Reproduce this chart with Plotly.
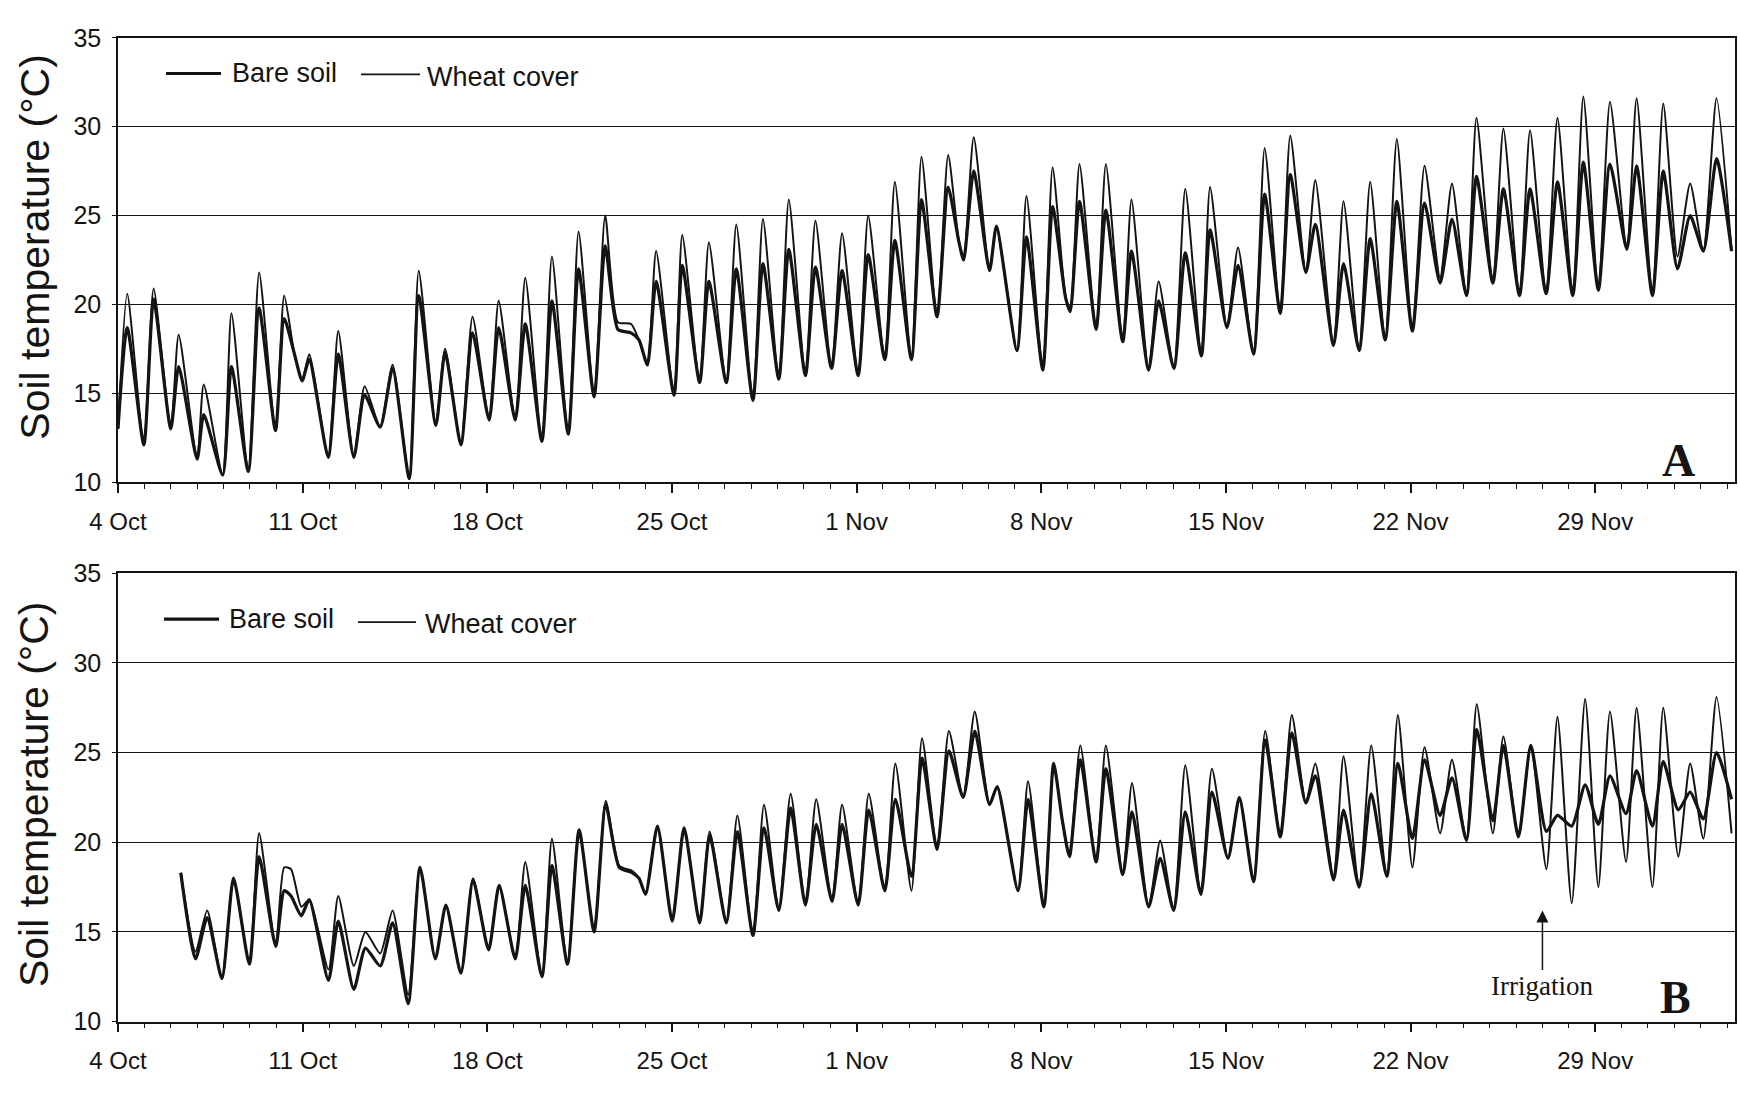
import pandas as pd
import plotly.graph_objects as go

# Soil temperature records: time in days after 4 Oct, temperatures in °C
START = pd.Timestamp("2002-10-04")

# Panel A
a_days = [0.00, 0.35, 0.98, 1.35, 2.00, 2.30, 3.00, 3.25, 3.97, 4.30, 4.94, 5.35, 5.97, 6.30, 6.69, 6.98,
          7.25, 7.97, 8.35, 8.94, 9.35, 9.94, 10.41, 11.04, 11.40, 12.05, 12.40, 13.00, 13.44, 14.07, 14.43,
          15.06, 15.44, 16.07, 16.45, 17.07, 17.46, 18.05, 18.47, 18.95, 19.45, 19.75, 20.07, 20.40, 21.08,
          21.39, 22.05, 22.40, 23.06, 23.44, 24.07, 24.45, 25.05, 25.43, 26.06, 26.44, 27.05, 27.45, 28.06,
          28.44, 29.07, 29.45, 30.08, 30.46, 31.05, 31.47, 31.88, 32.06, 32.44, 33.04, 33.30, 34.08, 34.44,
          35.06, 35.43, 35.92, 36.10, 36.45, 37.08, 37.45, 38.09, 38.42, 39.07, 39.45, 40.03, 40.46, 41.07,
          41.40, 42.04, 42.46, 43.05, 43.47, 44.06, 44.44, 45.03, 45.39, 46.08, 46.46, 47.05, 47.47, 48.04,
          48.48, 49.07, 49.53, 50.12, 50.57, 51.12, 51.50, 52.12, 52.52, 53.13, 53.53, 54.14, 54.57, 55.15,
          55.55, 56.12, 56.56, 57.20, 57.57, 58.17, 58.58, 59.12, 59.60, 60.10, 60.60, 61.17]
a_bare = [13.0, 18.7, 12.1, 20.3, 13.0, 16.5, 11.3, 13.8, 10.4, 16.5, 10.6, 19.8, 12.9, 19.2, 17.2, 15.7,
          16.9, 11.4, 17.2, 11.4, 14.9, 13.1, 16.4, 10.2, 20.5, 13.2, 17.3, 12.1, 18.4, 13.5, 18.7,
          13.5, 18.9, 12.3, 20.2, 12.7, 22.0, 14.8, 23.3, 18.6, 18.4, 18.0, 16.6, 21.3, 14.9,
          22.2, 15.6, 21.3, 15.6, 22.0, 14.6, 22.3, 15.8, 23.1, 16.0, 22.1, 16.4, 21.9, 16.0,
          22.8, 16.9, 23.6, 16.9, 25.9, 19.3, 26.6, 23.5, 22.5, 27.5, 21.9, 24.4, 17.4, 23.8,
          16.3, 25.5, 20.4, 19.6, 25.8, 18.6, 25.3, 17.9, 23.0, 16.3, 20.2, 16.4, 22.9, 17.1,
          24.2, 18.7, 22.2, 17.2, 26.2, 19.5, 27.3, 21.8, 24.5, 17.7, 22.3, 17.4, 23.7, 18.0,
          25.8, 18.5, 25.7, 21.2, 24.8, 20.5, 27.2, 21.2, 26.5, 20.5, 26.5, 20.6, 26.9, 20.5,
          28.0, 20.8, 27.9, 23.1, 27.8, 20.5, 27.5, 22.0, 25.0, 23.0, 28.2, 23.0]
a_wheat = [13.0, 20.6, 12.1, 20.9, 13.0, 18.3, 11.3, 15.5, 10.4, 19.5, 10.6, 21.8, 12.9, 20.5, 17.2, 15.7,
           17.2, 11.4, 18.5, 11.4, 15.4, 13.1, 16.6, 10.2, 21.9, 13.2, 17.5, 12.1, 19.3, 13.5, 20.2,
           13.5, 21.5, 12.3, 22.7, 12.7, 24.1, 14.8, 25.0, 19.0, 18.9, 18.0, 16.6, 23.0, 14.9,
           23.9, 15.6, 23.5, 15.6, 24.5, 14.6, 24.8, 15.8, 25.9, 16.0, 24.7, 16.4, 24.0, 16.0,
           25.0, 16.9, 26.9, 16.9, 28.3, 19.3, 28.4, 23.5, 22.5, 29.4, 21.9, 24.4, 17.4, 26.1,
           16.3, 27.7, 20.4, 19.6, 27.9, 18.6, 27.9, 17.9, 25.9, 16.3, 21.3, 16.4, 26.5, 17.1,
           26.6, 18.7, 23.2, 17.2, 28.8, 19.5, 29.5, 21.8, 27.0, 17.7, 25.8, 17.4, 26.9, 18.0,
           29.3, 18.5, 27.8, 21.5, 26.8, 20.5, 30.5, 21.2, 29.9, 20.5, 29.8, 20.6, 30.5, 20.5,
           31.7, 20.8, 31.4, 23.1, 31.6, 20.5, 31.3, 22.7, 26.8, 23.0, 31.6, 23.0]

# Panel B
b_days = [2.38, 2.94, 3.38, 3.94, 4.38, 4.98, 5.35, 5.98, 6.30, 6.56, 6.95, 7.25, 7.98, 8.35, 8.94, 9.38,
          9.94, 10.41, 11.00, 11.45, 12.03, 12.43, 13.00, 13.46, 14.05, 14.45, 15.06, 15.44, 16.07, 16.45,
          17.04, 17.48, 18.05, 18.49, 19.00, 19.50, 19.75, 20.00, 20.45, 21.01, 21.46, 22.05, 22.43, 23.06,
          23.48, 24.07, 24.49, 25.05, 25.50, 26.06, 26.47, 27.07, 27.45, 28.06, 28.46, 29.07, 29.47, 30.08,
          30.48, 31.05, 31.50, 32.04, 32.48, 33.04, 33.33, 34.12, 34.50, 35.10, 35.47, 35.79, 36.07, 36.48,
          37.08, 37.45, 38.09, 38.44, 39.07, 39.51, 40.02, 40.46, 41.05, 41.47, 42.08, 42.51, 43.05, 43.49,
          44.06, 44.50, 45.03, 45.39, 46.08, 46.46, 47.05, 47.51, 48.10, 48.52, 49.07, 49.53, 50.12, 50.57,
          51.12, 51.51, 52.12, 52.52, 53.09, 53.56, 54.15, 54.57, 55.11, 55.62, 56.12, 56.56, 57.17, 57.57,
          58.17, 58.58, 59.15, 59.60, 60.10, 60.60, 61.17]
b_bare = [18.3, 13.5, 15.8, 12.4, 18.0, 13.2, 19.2, 14.2, 17.3, 17.0, 15.9, 16.8, 12.3, 15.6, 11.8, 14.1,
          13.1, 15.5, 11.0, 18.6, 13.5, 16.5, 12.7, 17.9, 14.0, 17.6, 13.5, 17.6, 12.5, 18.7,
          13.2, 20.7, 15.0, 22.1, 18.6, 18.3, 18.0, 17.1, 20.9, 15.6, 20.8, 15.5, 20.4, 15.5,
          20.6, 14.8, 20.8, 16.2, 21.9, 16.5, 21.0, 16.7, 21.0, 16.5, 21.8, 17.3, 22.4, 18.1,
          24.7, 19.6, 25.1, 22.5, 26.2, 22.1, 23.1, 17.3, 22.4, 16.4, 24.4, 21.3, 19.2, 24.6,
          18.9, 24.1, 18.2, 21.7, 16.4, 19.1, 16.2, 21.7, 17.1, 22.8, 19.1, 22.5, 17.8, 25.7,
          20.3, 26.1, 22.2, 23.7, 17.9, 21.8, 17.5, 22.7, 18.1, 24.4, 20.2, 24.6, 21.5, 23.6,
          20.1, 26.3, 21.2, 25.4, 20.3, 25.4, 20.6, 21.5, 20.9, 23.2, 21.0, 23.7, 21.6, 24.0,
          20.9, 24.5, 21.8, 22.8, 21.3, 25.0, 22.4]
b_wheat = [18.3, 13.9, 16.2, 12.4, 18.0, 13.2, 20.5, 14.2, 18.6, 18.5, 16.4, 16.8, 12.9, 17.0, 13.1, 15.0,
           13.8, 16.2, 11.5, 18.6, 13.5, 16.5, 12.7, 18.0, 14.0, 17.6, 13.5, 18.9, 12.5, 20.2,
           13.2, 20.7, 15.0, 22.3, 18.7, 18.4, 18.0, 17.1, 20.9, 15.6, 20.8, 15.5, 20.6, 15.5,
           21.5, 14.8, 22.1, 16.2, 22.7, 16.5, 22.4, 16.7, 22.1, 16.5, 22.7, 17.3, 24.4, 17.3,
           25.8, 19.6, 26.2, 22.5, 27.3, 22.1, 23.1, 17.3, 23.4, 16.4, 24.4, 21.3, 19.2, 25.4,
           18.9, 25.4, 18.2, 23.3, 16.4, 20.1, 16.2, 24.3, 17.1, 24.1, 19.1, 22.5, 17.8, 26.2,
           20.3, 27.1, 22.2, 24.4, 18.1, 24.8, 17.5, 25.4, 18.1, 27.1, 18.6, 25.3, 20.5, 24.6,
           20.1, 27.7, 20.5, 25.9, 20.3, 25.4, 18.5, 27.0, 16.6, 28.0, 17.5, 27.3, 18.9, 27.5,
           17.5, 27.5, 19.2, 24.4, 20.2, 28.1, 20.5]

week_labels = ["4 Oct", "11 Oct", "18 Oct", "25 Oct", "1 Nov", "8 Nov", "15 Nov", "22 Nov", "29 Nov"]
temp_ticks = [10, 15, 20, 25, 30, 35]
irrigation_day = 54.0

SANS = "Liberation Sans, Arial, sans-serif"
SERIF = "Liberation Serif, Times New Roman, serif"
INK = "#141414"


def as_time(days):
    return START + pd.to_timedelta(pd.Series(days, dtype=float), unit="D")


fig = go.Figure()

panels = [
    ("x", "y", a_days, a_bare, a_wheat),
    ("x2", "y2", b_days, b_bare, b_wheat),
]
for xa, ya, days, bare, wheat in panels:
    t = as_time(days)
    fig.add_trace(go.Scatter(x=t, y=wheat, xaxis=xa, yaxis=ya, mode="lines", name="Wheat cover",
                             line=dict(color=INK, width=2.0, shape="spline", smoothing=0.6),
                             showlegend=False))
    fig.add_trace(go.Scatter(x=t, y=bare, xaxis=xa, yaxis=ya, mode="lines", name="Bare soil",
                             line=dict(color=INK, width=3.2, shape="spline", smoothing=0.6),
                             showlegend=False))

week_vals = [START + pd.Timedelta(days=7 * i) for i in range(len(week_labels))]
x_range = [START, START + pd.Timedelta(days=61.3)]

xaxis_style = dict(
    range=x_range, tickmode="array", tickvals=week_vals, ticktext=week_labels,
    ticks="outside", ticklen=9, tickwidth=1.5, tickcolor=INK,
    showline=True, linecolor=INK, linewidth=1.6, mirror=True, showgrid=False, zeroline=False,
    tickfont=dict(family=SANS, size=24, color=INK), ticklabelstandoff=8,
    minor=dict(tickmode="linear", tick0=START, dtick=86400000, ticks="outside",
               ticklen=5, tickwidth=1, tickcolor=INK, showgrid=False),
)
yaxis_style = dict(
    range=[10, 35], tickmode="array", tickvals=temp_ticks,
    ticks="outside", ticklen=4, tickcolor=INK, tickwidth=1.2,
    showgrid=True, gridcolor=INK, gridwidth=1.4,
    showline=True, linecolor=INK, linewidth=1.6, mirror=True, zeroline=False,
    tickfont=dict(family=SANS, size=25, color=INK), ticklabelstandoff=6,
)

fig.update_layout(
    width=1740, height=1094,
    margin=dict(l=118, r=5, t=0, b=0),
    paper_bgcolor="white", plot_bgcolor="white",
    xaxis=dict(domain=[0, 1], anchor="y", **xaxis_style),
    yaxis=dict(domain=[0.5608, 0.9777], anchor="x", **yaxis_style),
    xaxis2=dict(domain=[0, 1], anchor="y2", **xaxis_style),
    yaxis2=dict(domain=[0.0548, 0.4753], anchor="x2", **yaxis_style),
)

# Axis titles
for yc in (0.7815, 0.268):
    fig.add_annotation(xref="paper", yref="paper", x=-0.0515, y=yc, text="Soil temperature (°C)",
                       textangle=-90, showarrow=False, xanchor="center", yanchor="middle",
                       font=dict(family=SANS, size=41, color=INK))

# Legend keys drawn inside each panel
legend_rows = [
    # (bare x0, x1, y, bare text x, wheat x0, x1, y, wheat text x)
    (0.0297, 0.0637, 0.9442, 0.0693, 0.1503, 0.1868, 0.9433, 0.1899),
    (0.0284, 0.0625, 0.4324, 0.0674, 0.1484, 0.1843, 0.4296, 0.1886),
]
for bx0, bx1, by, btx, wx0, wx1, wy, wtx in legend_rows:
    fig.add_shape(type="line", xref="paper", yref="paper", x0=bx0, x1=bx1, y0=by, y1=by,
                  line=dict(color=INK, width=3.2))
    fig.add_annotation(xref="paper", yref="paper", x=btx, y=by, text="Bare soil", showarrow=False,
                       xanchor="left", yanchor="middle", font=dict(family=SANS, size=27, color=INK))
    fig.add_shape(type="line", xref="paper", yref="paper", x0=wx0, x1=wx1, y0=wy, y1=wy,
                  line=dict(color=INK, width=1.8))
    fig.add_annotation(xref="paper", yref="paper", x=wtx, y=wy - 0.002, text="Wheat cover", showarrow=False,
                       xanchor="left", yanchor="middle", font=dict(family=SANS, size=27, color=INK))

# Panel letters
fig.add_annotation(xref="paper", yref="paper", x=0.965, y=0.581, text="<b>A</b>", showarrow=False,
                   xanchor="center", yanchor="middle", font=dict(family=SERIF, size=46, color=INK))
fig.add_annotation(xref="paper", yref="paper", x=0.963, y=0.077, text="<b>B</b>", showarrow=False,
                   xanchor="center", yanchor="middle", font=dict(family=SERIF, size=46, color=INK))

# Irrigation marker
fig.add_annotation(xref="x2", yref="y2", x=START + pd.Timedelta(days=irrigation_day), y=16.2,
                   text="Irrigation", showarrow=True, arrowhead=2, arrowsize=1.6, arrowwidth=1.5,
                   arrowcolor=INK, ax=0, ay=76, font=dict(family=SERIF, size=27, color=INK))

fig.write_html("out.html")
